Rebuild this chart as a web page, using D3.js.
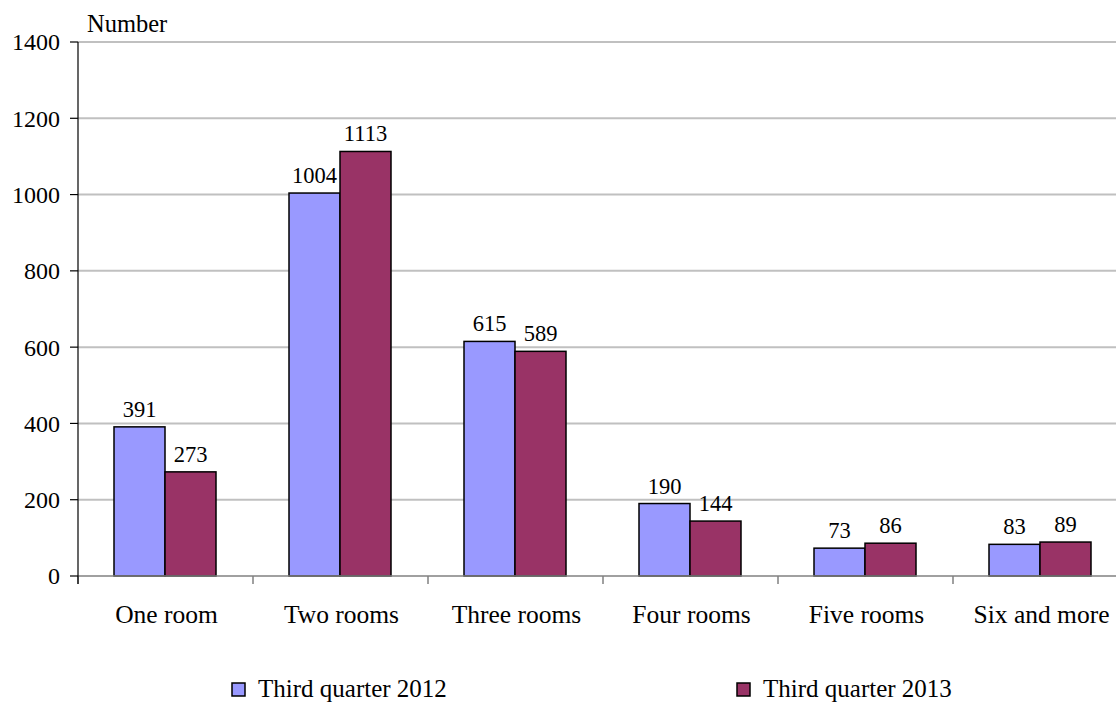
<!DOCTYPE html>
<html>
<head>
<meta charset="utf-8">
<script src="https://cdn.jsdelivr.net/npm/d3@7"></script>
<style>
  body { margin: 0; background: #fff; }
</style>
</head>
<body>
<div id="chart"></div>
<script>
let categories = ["One room", "Two rooms", "Three rooms", "Four rooms", "Five rooms", "Six and more"];
let seriesNames = ["Third quarter 2012", "Third quarter 2013"];
let values2012 = [391, 1004, 615, 190, 73, 83];
let values2013 = [273, 1113, 589, 144, 86, 89];
let yTicks = [0, 200, 400, 600, 800, 1000, 1200, 1400];

let colors = ["#9999ff", "#993366"];
let serif = "'Liberation Serif', 'Times New Roman', Times, serif";

let chartWidth = 1116, chartHeight = 704;
let plotLeft = 78, plotTop = 42, plotBottom = 576;

let svg = d3.select("#chart").append("svg")
  .attr("width", chartWidth)
  .attr("height", chartHeight)
  .attr("font-family", serif);

// y scale goes 0..1400
let y = d3.scaleLinear().domain([0, 1400]).range([plotBottom, plotTop]);
// plot runs a bit past the right edge, like the original
let x0 = d3.scaleBand().domain(categories).range([plotLeft, plotLeft + 6 * 175]);
let x1 = d3.scaleBand().domain(seriesNames).range([36, 138]);

// gridlines
svg.append("g")
  .selectAll("line")
  .data(yTicks.filter(d => d > 0))
  .join("line")
  .attr("x1", plotLeft).attr("x2", chartWidth)
  .attr("y1", d => y(d)).attr("y2", d => y(d))
  .attr("stroke", "#c0c0c0")
  .attr("stroke-width", 2);

let rows = categories.map((c, i) => ({ cat: c, vals: [values2012[i], values2013[i]] }));

let groups = svg.append("g")
  .selectAll("g")
  .data(rows)
  .join("g")
  .attr("transform", d => "translate(" + x0(d.cat) + ",0)");

groups.selectAll("rect")
  .data(d => d.vals.map((v, j) => ({ name: seriesNames[j], v: v, j: j })))
  .join("rect")
  .attr("x", d => x1(d.name))
  .attr("y", d => y(d.v))
  .attr("width", x1.bandwidth())
  .attr("height", d => plotBottom - y(d.v))
  .attr("fill", d => colors[d.j])
  .attr("stroke", "#000")
  .attr("stroke-width", 1.5);

groups.selectAll("text")
  .data(d => d.vals.map((v, j) => ({ name: seriesNames[j], v: v })))
  .join("text")
  .attr("x", d => x1(d.name) + x1.bandwidth() / 2)
  .attr("y", d => y(d.v) - 10)
  .attr("text-anchor", "middle")
  .attr("font-size", 22.5)
  .text(d => d.v);

// x axis
let xAxis = svg.append("g");
xAxis.append("line")
  .attr("x1", plotLeft).attr("x2", chartWidth)
  .attr("y1", plotBottom).attr("y2", plotBottom)
  .attr("stroke", "#808080").attr("stroke-width", 1.5);
xAxis.selectAll(".tick")
  .data(categories)
  .join("line")
  .attr("x1", d => x0(d)).attr("x2", d => x0(d))
  .attr("y1", plotBottom).attr("y2", plotBottom + 8)
  .attr("stroke", "#808080").attr("stroke-width", 1.5);
xAxis.selectAll("text")
  .data(categories)
  .join("text")
  .attr("x", d => x0(d) + x0.bandwidth() / 2 + 1)
  .attr("y", 623)
  .attr("text-anchor", "middle")
  .attr("font-size", 25.5)
  .text(d => d);

// y axis
let yAxis = svg.append("g");
yAxis.append("line")
  .attr("x1", plotLeft).attr("x2", plotLeft)
  .attr("y1", plotTop).attr("y2", plotBottom + 8)
  .attr("stroke", "#000").attr("stroke-width", 1.2);
yAxis.selectAll(".tick")
  .data(yTicks)
  .join("line")
  .attr("x1", plotLeft - 8).attr("x2", plotLeft)
  .attr("y1", d => y(d)).attr("y2", d => y(d))
  .attr("stroke", "#000").attr("stroke-width", 1.2);
yAxis.selectAll("text")
  .data(yTicks)
  .join("text")
  .attr("x", plotLeft - 18)
  .attr("y", d => y(d))
  .attr("dy", "0.35em")
  .attr("text-anchor", "end")
  .attr("font-size", 24)
  .text(d => d);

svg.append("text")
  .attr("x", 87).attr("y", 32)
  .attr("font-size", 24.5)
  .text("Number");

// legend
let legendX = [232, 737];
let legend = svg.append("g")
  .selectAll("g")
  .data(seriesNames)
  .join("g")
  .attr("transform", (d, i) => "translate(" + legendX[i] + ",683)");
legend.append("rect")
  .attr("width", 13).attr("height", 13)
  .attr("fill", (d, i) => colors[i])
  .attr("stroke", "#000").attr("stroke-width", 1.5);
legend.append("text")
  .attr("x", 26).attr("y", 14)
  .attr("font-size", 25)
  .text(d => d);
</script>
</body>
</html>
